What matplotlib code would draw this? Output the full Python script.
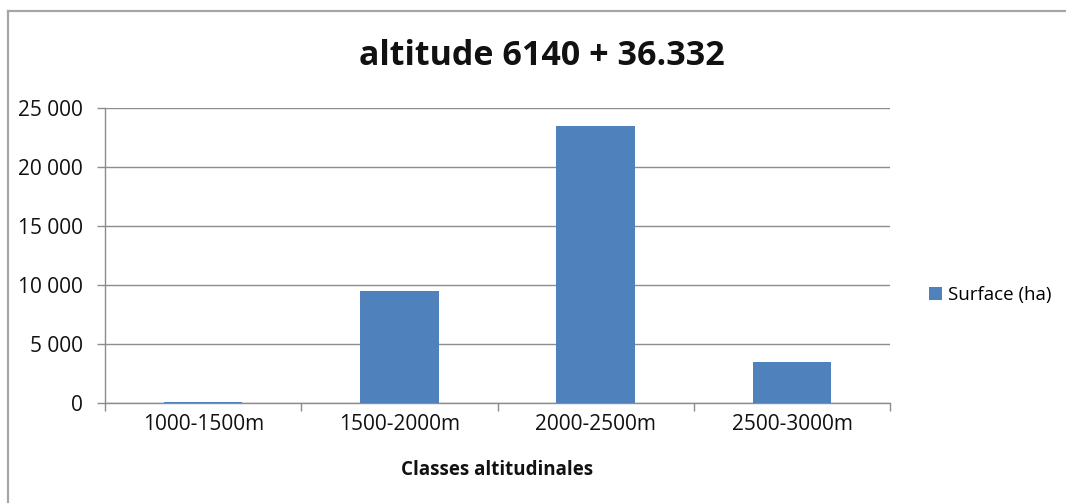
import matplotlib
matplotlib.use("Agg")
import matplotlib.pyplot as plt
from matplotlib.lines import Line2D
from matplotlib.patches import Patch
from matplotlib.ticker import FuncFormatter

categories = ["1000-1500m", "1500-2000m", "2000-2500m", "2500-3000m"]
surface_ha = [100, 9500, 23450, 3480]
y_ticks = [0, 5000, 10000, 15000, 20000, 25000]

title = "altitude 6140 + 36.332"
x_label = "Classes altitudinales"
series_label = "Surface (ha)"

bar_color = "#4F81BD"
grid_color = "#8C8C8C"
text_color = "#111111"
font = ["Open Sans", "DejaVu Sans"]

plt.rcParams["font.family"] = font

fig = plt.figure(figsize=(10.66, 5.03), dpi=100)
ax = fig.add_axes([0.0985, 0.199, 0.7365, 0.586])

x = range(len(categories))
ax.bar(x, surface_ha, width=0.4, color=bar_color, zorder=3)

ax.set_xlim(-0.5, len(categories) - 0.5)
ax.set_ylim(0, 25000)
ax.set_yticks(y_ticks)
ax.yaxis.set_major_formatter(
    FuncFormatter(lambda v, _: f"{int(v):,}".replace(",", " "))
)
ax.grid(axis="y", color=grid_color, linewidth=1.0, zorder=0)

# category labels centred, tick marks on category boundaries
ax.set_xticks(list(x))
ax.set_xticklabels(categories, fontsize=15, color=text_color)
ax.tick_params(axis="x", which="major", length=0, pad=8)
ax.set_xticks([i - 0.5 for i in range(len(categories) + 1)], minor=True)
ax.tick_params(axis="x", which="minor", length=6, color=grid_color, width=1)
ax.tick_params(axis="y", length=6, color=grid_color, width=1,
               labelsize=15, labelcolor=text_color, pad=10)
for lbl in ax.get_xticklabels() + ax.get_yticklabels():
    lbl.set_fontweight(500)

for side in ("top", "right"):
    ax.spines[side].set_visible(False)
for side in ("left", "bottom"):
    ax.spines[side].set_color(grid_color)
    ax.spines[side].set_linewidth(1.0)

ax.set_xlabel(x_label, fontsize=13.5, fontweight="bold", color=text_color,
              labelpad=18)

fig.text(0.508, 0.888, title, ha="center", va="center",
         fontsize=24.5, fontweight="bold", color=text_color)

handle = Patch(facecolor=bar_color, edgecolor="none")
fig.legend([handle], [series_label], loc="center left",
           bbox_to_anchor=(0.856, 0.413), frameon=False, fontsize=13.5,
           handlelength=0.7, handleheight=0.7, handletextpad=0.3)

# chart area frame (left and top edges visible)
fig.add_artist(Line2D([0.0075, 0.0075], [0.0, 0.978], transform=fig.transFigure,
                      color="#A6A6A6", linewidth=1.6))
fig.add_artist(Line2D([0.0075, 1.0], [0.978, 0.978], transform=fig.transFigure,
                      color="#A6A6A6", linewidth=1.6))

fig.savefig("out.png", dpi=100)
